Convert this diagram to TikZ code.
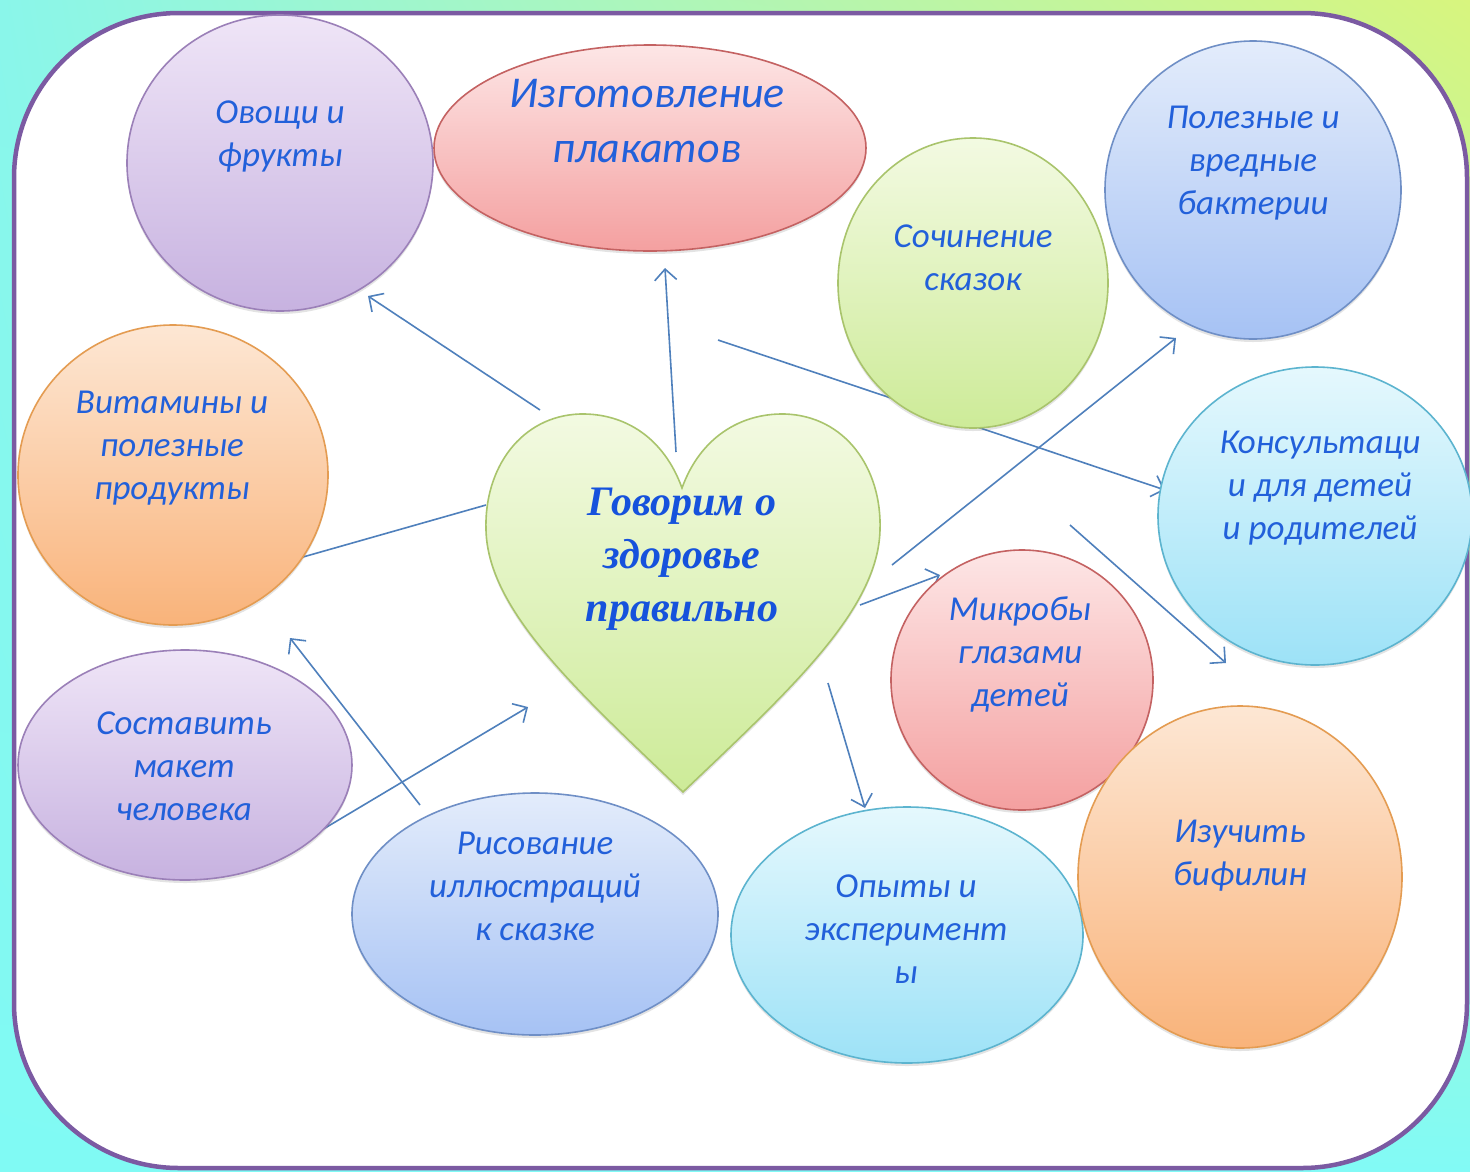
\documentclass[tikz,border=0pt]{standalone}
\usepackage{fontspec}
\setmainfont{Carlito}
\newfontfamily\heartfont{Liberation Serif}
\usetikzlibrary{shapes.geometric,arrows.meta,shadings,shadows}
\definecolor{bgA}{HTML}{8AF6EA}
\definecolor{bgB}{HTML}{D8F57E}
\definecolor{bgC}{HTML}{80FAF4}
\definecolor{bgD}{HTML}{82FAF6}
\definecolor{frameC}{HTML}{7B5AA2}
\definecolor{arrC}{HTML}{4F80BC}
\definecolor{txtC}{HTML}{2260DA}
\definecolor{heartTxt}{HTML}{1652DC}
\definecolor{purT}{HTML}{EFE5F7}\definecolor{purB}{HTML}{C7B2E0}\definecolor{purD}{HTML}{9B80B8}
\definecolor{redT}{HTML}{FDE6E6}\definecolor{redB}{HTML}{F4A0A0}\definecolor{redD}{HTML}{C46262}
\definecolor{grnT}{HTML}{F3FAE2}\definecolor{grnB}{HTML}{CDEB98}\definecolor{grnD}{HTML}{A9C46C}
\definecolor{bluT}{HTML}{E3ECFB}\definecolor{bluB}{HTML}{A6C2F4}\definecolor{bluD}{HTML}{6F8FC6}
\definecolor{cyaT}{HTML}{E5F8FD}\definecolor{cyaB}{HTML}{9DE2F7}\definecolor{cyaD}{HTML}{5CB4CF}
\definecolor{orgT}{HTML}{FDE7D4}\definecolor{orgB}{HTML}{F9B37A}\definecolor{orgD}{HTML}{E49C52}
\begin{document}
\begin{tikzpicture}[x=1pt,y=-1pt,
  softshadow/.style={drop shadow={shadow xshift=0pt,shadow yshift=-3pt,opacity=0.18,fill=black!60}},
  blob/.style={ellipse,inner sep=0pt,outer sep=0pt,line width=1.6pt,softshadow},
  purple blob/.style={blob,top color=purT,bottom color=purB,draw=purD},
  red blob/.style={blob,top color=redT,bottom color=redB,draw=redD},
  green blob/.style={blob,top color=grnT,bottom color=grnB,draw=grnD},
  blue blob/.style={blob,top color=bluT,bottom color=bluB,draw=bluD},
  cyan blob/.style={blob,top color=cyaT,bottom color=cyaB,draw=cyaD},
  orange blob/.style={blob,top color=orgT,bottom color=orgB,draw=orgD},
  lbl/.style={text=txtC,align=center,inner sep=0pt,font=\itshape\fontsize{35}{43}\selectfont},
  conn/.style={draw=arrC,line width=1.6pt},
  arr/.style={conn,-{Straight Barb[length=11pt,width=22pt]}}
]
\useasboundingbox (0,0) rectangle (1470,1171);
\shade[upper left=bgA,upper right=bgB,lower left=bgC,lower right=bgD] (0,0) rectangle (1470,1171);
\draw[line width=4.5pt,draw=frameC,fill=white,rounded corners=165pt] (14,13) rectangle (1467,1168);

% connector end points
\coordinate (a1s) at (540,410); \coordinate (a1e) at (368,296);
\coordinate (a2s) at (676,452); \coordinate (a2e) at (665,268);
\coordinate (a3s) at (718,340); \coordinate (a3e) at (1165,490);
\coordinate (a4s) at (892,565); \coordinate (a4e) at (1176,338);
\coordinate (a5s) at (860,605); \coordinate (a5e) at (940,575);
\coordinate (a6s) at (1070,525); \coordinate (a6e) at (1226,663);
\coordinate (a7s) at (828,683); \coordinate (a7e) at (865,808);
\coordinate (a8s) at (486,505); \coordinate (a8e) at (303,557);
\coordinate (a9s) at (420,805); \coordinate (a9e) at (290,638);
\coordinate (a10s) at (305,840); \coordinate (a10e) at (528,707);

\draw[arr] (a1s) -- (a1e);
\draw[arr] (a2s) -- (a2e);
\draw[arr] (a3s) -- (a3e);
\draw[arr] (a4s) -- (a4e);
\draw[arr] (a5s) -- (a5e);
\draw[arr] (a6s) -- (a6e);
\draw[arr] (a7s) -- (a7e);
\draw[conn] (a8s) -- (a8e);
\draw[arr] (a9s) -- (a9e);
\draw[arr] (a10s) -- (a10e);

% shapes
\node[purple blob,minimum width=306pt,minimum height=296pt] (ovoshchi) at (280,163) {};
\node[red blob,minimum width=432pt,minimum height=206pt] (plakaty) at (650,148) {};
\node[green blob,minimum width=270pt,minimum height=290pt] (skazki) at (973,283) {};
\node[blue blob,minimum width=296pt,minimum height=298pt] (bakterii) at (1253,190) {};
\node[cyan blob,minimum width=314pt,minimum height=298pt] (konsult) at (1315,516) {};
\node[orange blob,minimum width=310pt,minimum height=300pt] (vitaminy) at (173,475) {};
\node[purple blob,minimum width=334pt,minimum height=230pt] (maket) at (185,765) {};
\node[blue blob,minimum width=366pt,minimum height=242pt] (risovanie) at (535,914) {};
\node[cyan blob,minimum width=352pt,minimum height=256pt] (opyty) at (907,935) {};
\node[red blob,minimum width=262pt,minimum height=260pt] (mikroby) at (1022,680) {};
\node[orange blob,minimum width=324pt,minimum height=342pt] (bifilin) at (1240,877) {};

% heart
\draw[line width=1.6pt,draw=grnD,top color=grnT,bottom color=grnB,softshadow]
  (682,488) .. controls (700,438) and (740,413) .. (785,414)
  .. controls (845,416) and (882,468) .. (880,530)
  .. controls (878,610) and (790,690) .. (683,792)
  .. controls (576,690) and (488,610) .. (486,530)
  .. controls (484,468) and (521,416) .. (580,414)
  .. controls (625,413) and (664,438) .. (682,488) -- cycle;

% labels
\node[lbl] (tOvoshchi) at (280,137) {Овощи и\\фрукты};
\node[lbl,font=\itshape\fontsize{44}{55}\selectfont] (tPlakaty) at (647,121) {Изготовление\\плакатов};
\node[lbl] (tSkazki) at (973,258) {Сочинение\\сказок};
\node[lbl] (tBakterii) at (1253,163) {Полезные и\\вредные\\бактерии};
\node[lbl] (tKonsult) at (1320,488) {Консультаци\\и для детей\\и родителей};
\node[lbl] (tVitaminy) at (172,448) {Витамины и\\полезные\\продукты};
\node[lbl] (tMaket) at (184,766) {Составить\\макет\\человека};
\node[lbl] (tRisovanie) at (535,886) {Рисование\\иллюстраций\\к сказке};
\node[lbl] (tOpyty) at (906,929) {Опыты и\\эксперимент\\ы};
\node[lbl] (tMikroby) at (1020,654) {Микробы\\глазами\\детей};
\node[lbl] (tBifilin) at (1240,856) {Изучить\\бифилин};
\node[text=heartTxt,align=center,inner sep=0pt,font=\heartfont\bfseries\itshape\fontsize{42}{53}\selectfont] (tHeart) at (682,559) {Говорим о\\здоровье\\правильно};
\end{tikzpicture}
\end{document}
